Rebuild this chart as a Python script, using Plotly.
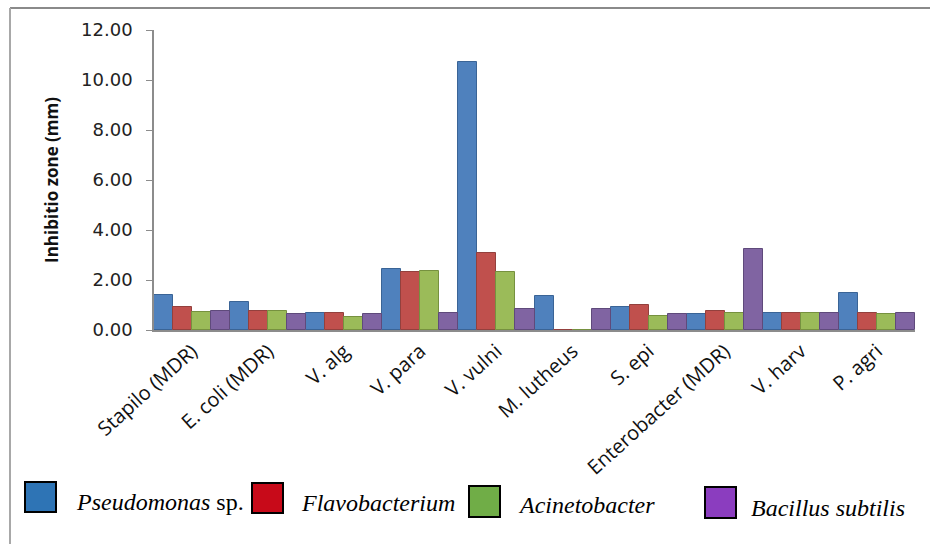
import plotly.graph_objects as go

categories = ["Stapilo (MDR)", "E. coli (MDR)", "V. alg", "V. para", "V. vulni",
              "M. lutheus", "S. epi", "Enterobacter (MDR)", "V. harv", "P. agri"]
pseudomonas = [1.40, 1.13, 0.67, 2.43, 10.71, 1.36, 0.93, 0.63, 0.69, 1.49]
flavobacterium = [0.91, 0.77, 0.67, 2.31, 3.07, 0.0, 0.99, 0.75, 0.69, 0.67]
acinetobacter = [0.73, 0.77, 0.53, 2.35, 2.33, 0.0, 0.55, 0.67, 0.67, 0.63]
bacillus = [0.77, 0.63, 0.63, 0.69, 0.83, 0.85, 0.63, 3.23, 0.69, 0.69]
series_names = ["Pseudomonas sp.", "Flavobacterium", "Acinetobacter", "Bacillus subtilis"]
y_ticks = [0, 2, 4, 6, 8, 10, 12]

W, H = 930, 544
L, R, T, B = 154, 15, 30, 214
PW, PH = W - L - R, H - T - B

def px(x):
    return (x - L) / PW

def py(y):
    return (H - B - y) / PH

fills = ["#4F81BD", "#C0504D", "#9BBB59", "#8064A2"]
edges = ["#3A6496", "#93403D", "#76913F", "#5F4A7B"]

fig = go.Figure()
for name, vals, fc, ec in zip(series_names, [pseudomonas, flavobacterium, acinetobacter, bacillus], fills, edges):
    fig.add_trace(go.Bar(x=categories, y=vals, name=name, marker=dict(color=fc, line=dict(color=ec, width=1)),
                         showlegend=False))

fig.update_layout(
    width=W, height=H,
    margin=dict(l=L, r=R, t=T, b=B, pad=0),
    paper_bgcolor="white", plot_bgcolor="white",
    barmode="group", bargap=0, bargroupgap=0,
    xaxis=dict(showline=True, linecolor="#8c8c8c", linewidth=1.5, ticks="", showgrid=False,
               tickangle=-42, tickfont=dict(family="Open Sans", size=20, color="#111")),
    yaxis=dict(range=[0, 12], tickvals=y_ticks, tickformat=".2f", showline=True, linecolor="#8c8c8c",
               linewidth=1.5, ticks="outside", ticklen=6, tickcolor="#8c8c8c", showgrid=False, zeroline=False,
               tickfont=dict(family="DejaVu Sans", size=18, color="#222"), ticklabelstandoff=10,
               title=dict(text="<b>Inhibitio zone (mm)</b>", font=dict(family="Open Sans", size=17, color="#111"),
                          standoff=18)),
)

shapes = []
# outer frame
shapes.append(dict(type="line", xref="paper", yref="paper", x0=px(10), x1=px(931), y0=py(8), y1=py(8),
                   line=dict(color="#8a8a8a", width=2)))
shapes.append(dict(type="line", xref="paper", yref="paper", x0=px(10), x1=px(10), y0=py(8), y1=py(545),
                   line=dict(color="#a8a8a8", width=2)))

legend_boxes = [(25, 56, 482, 512), (252, 283, 483, 513), (469, 500, 486, 517), (705, 736, 487, 518)]
legend_colors = ["#2E74B5", "#C80A19", "#70AD47", "#8B3DBF"]
for (x0, x1, y0, y1), c in zip(legend_boxes, legend_colors):
    shapes.append(dict(type="rect", xref="paper", yref="paper", x0=px(x0), x1=px(x1), y0=py(y1), y1=py(y0),
                       fillcolor=c, line=dict(color="black", width=2)))
fig.update_layout(shapes=shapes)

legend_texts = ["<i>Pseudomonas</i> sp.", "<i>Flavobacterium</i>", "<i>Acinetobacter</i>", "<i>Bacillus subtilis</i>"]
legend_pos = [(74, 502), (299, 503), (516, 505), (749, 508)]
for t, (x, y) in zip(legend_texts, legend_pos):
    fig.add_annotation(text=t, xref="paper", yref="paper", x=px(x), y=py(y), xanchor="left", yanchor="middle",
                       showarrow=False, font=dict(family="Liberation Serif", size=24, color="black"))

fig.write_html("out.html", config={"displayModeBar": False},
               post_script="document.body.style.margin='0';document.body.style.overflow='hidden';")
